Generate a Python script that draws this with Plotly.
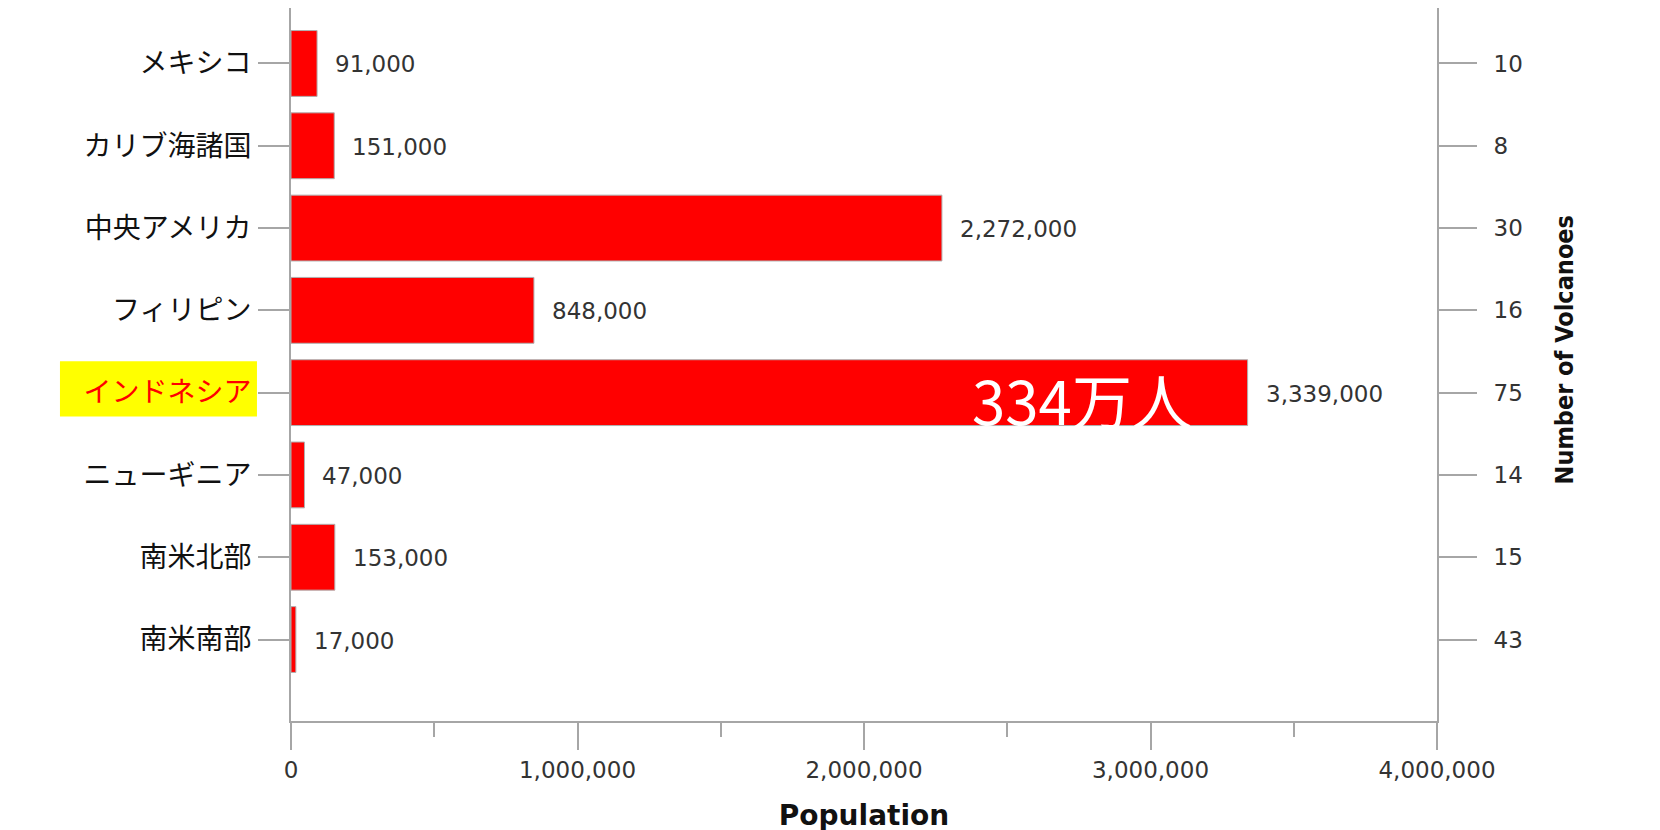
import plotly.graph_objects as go

regions = ["メキシコ", "カリブ海諸国", "中央アメリカ", "フィリピン", "インドネシア", "ニューギニア", "南米北部", "南米南部"]
population = [91000, 151000, 2272000, 848000, 3339000, 47000, 153000, 17000]
volcanoes = [10, 8, 30, 16, 75, 14, 15, 43]
highlight = "インドネシア"
callout_text = "334万人"
x_tickvals = [0, 1000000, 2000000, 3000000, 4000000]
x_ticktext = ["0", "1,000,000", "2,000,000", "3,000,000", "4,000,000"]

num_font = "DejaVu Sans, Liberation Sans, Arial"
jp_font = "Noto Sans CJK JP"
axis_gray = "#a6a6a6"

yrange = [7.99, -0.674]

fig = go.Figure()
fig.add_trace(go.Bar(
    x=population, y=regions, orientation="h",
    marker=dict(color="#ff0000", line=dict(color="#b0b0b0", width=1)),
    width=0.8, showlegend=False, hoverinfo="x+y",
))
fig.add_trace(go.Scatter(
    x=population, y=regions, yaxis="y2", mode="markers",
    marker=dict(opacity=0), showlegend=False, hoverinfo="skip",
))

ticktext_left = [
    f'<span style="color:#ff0000">{r}</span>' if r == highlight else r for r in regions
]

annotations = []
for r, p in zip(regions, population):
    annotations.append(dict(
        x=p, y=r, xref="x", yref="y", text=f"{p:,}", showarrow=False,
        xanchor="left", yanchor="middle", xshift=16, yshift=-1,
        font=dict(family=num_font, size=23, color="#333333"),
    ))
hi = regions.index(highlight)
annotations.append(dict(
    x=population[hi], y=hi + 0.07, xref="x", yref="y", text=callout_text,
    showarrow=False, xanchor="right", yanchor="middle", xshift=-54,
    font=dict(family=jp_font, size=60, color="#ffffff"),
))
annotations.append(dict(
    x=1.111, y=0.52, xref="paper", yref="paper", text="<b>Number of Volcanoes</b>",
    textangle=-90, showarrow=False, xanchor="center", yanchor="middle",
    font=dict(family="Liberation Sans Narrow, DejaVu Sans Condensed, Arial", size=25, color="#111111"),
))

fig.update_layout(
    width=1660, height=830,
    margin=dict(l=283, r=231, t=0, b=117),
    paper_bgcolor="white", plot_bgcolor="white",
    bargap=0.2,
    xaxis=dict(
        range=[0, 4000000], tickvals=x_tickvals, ticktext=x_ticktext,
        showgrid=False, zeroline=False, showline=True, linecolor=axis_gray, linewidth=2,
        ticks="outside", ticklen=27, tickcolor=axis_gray, tickwidth=2,
        tickfont=dict(family=num_font, size=23, color="#333333"),
        minor=dict(dtick=500000, tick0=0, ticks="outside", ticklen=14, tickcolor=axis_gray, tickwidth=2),
        title=dict(text="<b>Population</b>", font=dict(family=num_font, size=28, color="#111111"), standoff=24),
    ),
    yaxis=dict(
        type="category", categoryorder="array", categoryarray=regions,
        range=yrange, tickvals=regions, ticktext=ticktext_left,
        showgrid=False, zeroline=False, showline=True, linecolor=axis_gray, linewidth=2,
        ticks="outside", ticklen=31, tickcolor=axis_gray, tickwidth=2,
        ticklabelstandoff=1,
        tickfont=dict(family=jp_font, size=28, color="#111111"),
    ),
    yaxis2=dict(
        type="category", categoryorder="array", categoryarray=regions,
        overlaying="y", side="right", range=yrange,
        tickvals=regions, ticktext=[str(v) for v in volcanoes],
        showgrid=False, zeroline=False, showline=True, linecolor=axis_gray, linewidth=2,
        ticks="outside", ticklen=38, tickcolor=axis_gray, tickwidth=2,
        ticklabelstandoff=12,
        tickfont=dict(family=num_font, size=23, color="#333333"),
    ),
    annotations=annotations,
    shapes=[dict(
        type="rect", xref="paper", yref="y", x0=-0.2016, x1=-0.0297,
        y0=hi - 0.38, y1=hi + 0.29, fillcolor="#ffff00", line=dict(width=0), layer="below",
    )],
)

fig.write_html("out.html")
